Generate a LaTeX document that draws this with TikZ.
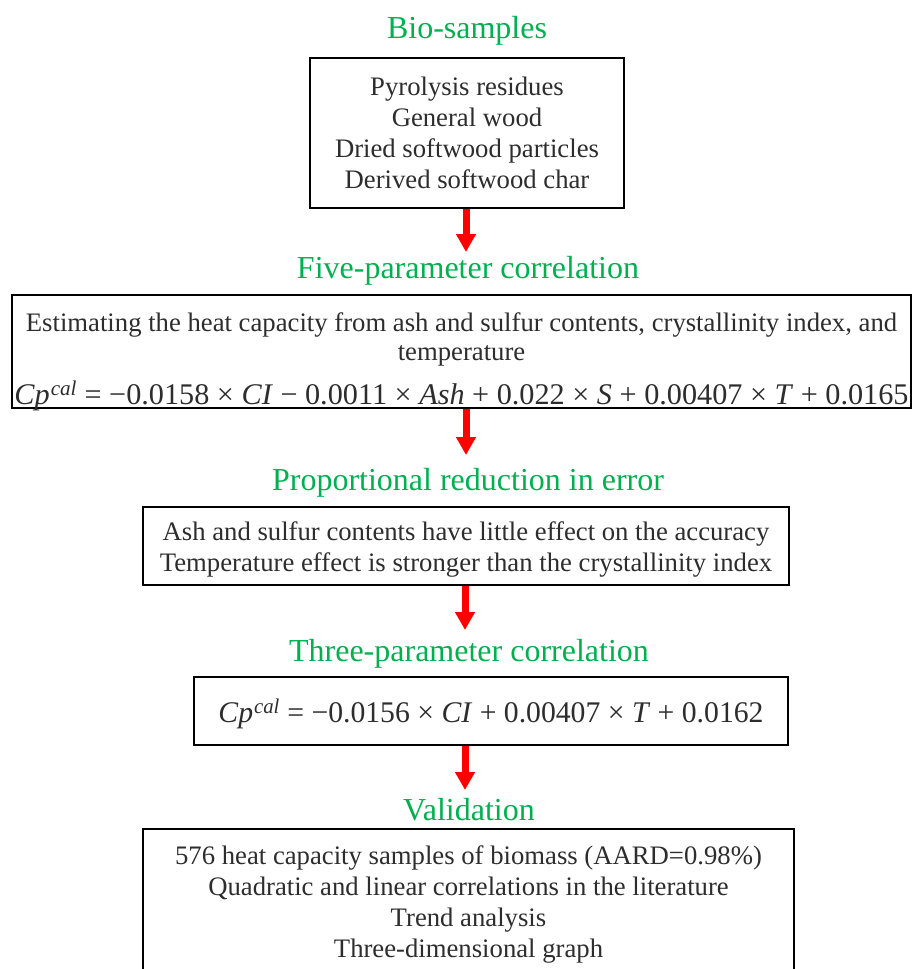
\documentclass[tikz,border=0pt]{standalone}
\usepackage{fontspec}
\setmainfont{Liberation Serif}
\usepackage{xcolor,graphicx}
\usetikzlibrary{arrows.meta,positioning}
\definecolor{titlegreen}{RGB}{0,176,80}
\definecolor{inkgray}{RGB}{45,45,45}
\newcommand{\cpcal}{\textit{Cp}\textsuperscript{\kern1pt\textit{cal}}}
\newcommand{\fitformula}[2]{\resizebox{#1}{\height}{\fontsize{30}{34}\selectfont\spaceskip=0.25em#2}}

\tikzset{
	steptitle/.style={text=titlegreen,font=\fontsize{32}{36}\selectfont,inner sep=0pt},
	stepbox/.style={draw=black,line width=2pt,text=inkgray,align=center,inner sep=0pt,
		font=\fontsize{26.7}{31}\selectfont},
	boxtext/.style={text=inkgray,align=center,inner sep=0pt,font=\fontsize{26.7}{29}\selectfont},
	flowarrow/.style={draw=red,line width=7pt,-{Triangle[length=18pt,width=19pt]}}
}

\begin{document}
\begin{tikzpicture}[x=1pt,y=-1pt]
	\useasboundingbox (0,0) rectangle (913,969);
	
	% titles
	\node[steptitle] (t1) at (467,30.5) {Bio-samples};
	\node[steptitle] (t2) at (468,271) {Five-parameter correlation};
	\node[steptitle] (t3) at (468,483) {Proportional reduction in error};
	\node[steptitle] (t4) at (469,654) {Three-parameter correlation};
	\node[steptitle] (t5) at (469,810) {Validation};
	
	% boxes
	\node[stepbox,minimum width=314,minimum height=150] (box1) at (467,133)
	{Pyrolysis residues\\General wood\\Dried softwood particles\\Derived softwood char};
	\node[stepbox,minimum width=899,minimum height=113] (box2) at (461.5,351.5) {};
	\node[boxtext,below=18pt of box2.north] (box2txt)
	{Estimating the heat capacity from ash and sulfur contents, crystallinity index, and\\
		temperature\\[14pt]
		\fitformula{894pt}{\cpcal{} = −0.0158 × \textit{CI} − 0.0011 × \textit{Ash} + 0.022 × \textit{S} + 0.00407 × \textit{T} + 0.0165}};
	\node[stepbox,minimum width=646,minimum height=78] (box3) at (466,546) {};
	\node[boxtext,font=\fontsize{26.7}{31}\selectfont] (box3txt) at ([yshift=-3pt]box3.center)
	{Ash and sulfur contents have little effect on the accuracy\\
		Temperature effect is stronger than the crystallinity index};
	\node[stepbox,minimum width=594,minimum height=68] (box4) at (491,711) {};
	\node[boxtext] (box4txt) at ([yshift=-3pt]box4.center)
	{\fitformula{545pt}{\cpcal{} = −0.0156 × \textit{CI} + 0.00407 × \textit{T} + 0.0162}};
	\node[stepbox,minimum width=651,minimum height=150] (box5) at (468.5,904)
	{576 heat capacity samples of biomass (AARD=0.98\%)\\
		Quadratic and linear correlations in the literature\\
		Trend analysis\\Three-dimensional graph};
	
	% arrows
	\coordinate (a1) at (466,252);
	\coordinate (a2) at (466,455);
	\coordinate (a3) at (465,630);
	\coordinate (a4) at (465,790);
	\draw[flowarrow] (box1.south -| a1)--(a1);
	\draw[flowarrow] (box2.south -| a2)--(a2);
	\draw[flowarrow] (box3.south -| a3)--(a3);
	\draw[flowarrow] (box4.south -| a4)--(a4);
\end{tikzpicture}
\end{document}
